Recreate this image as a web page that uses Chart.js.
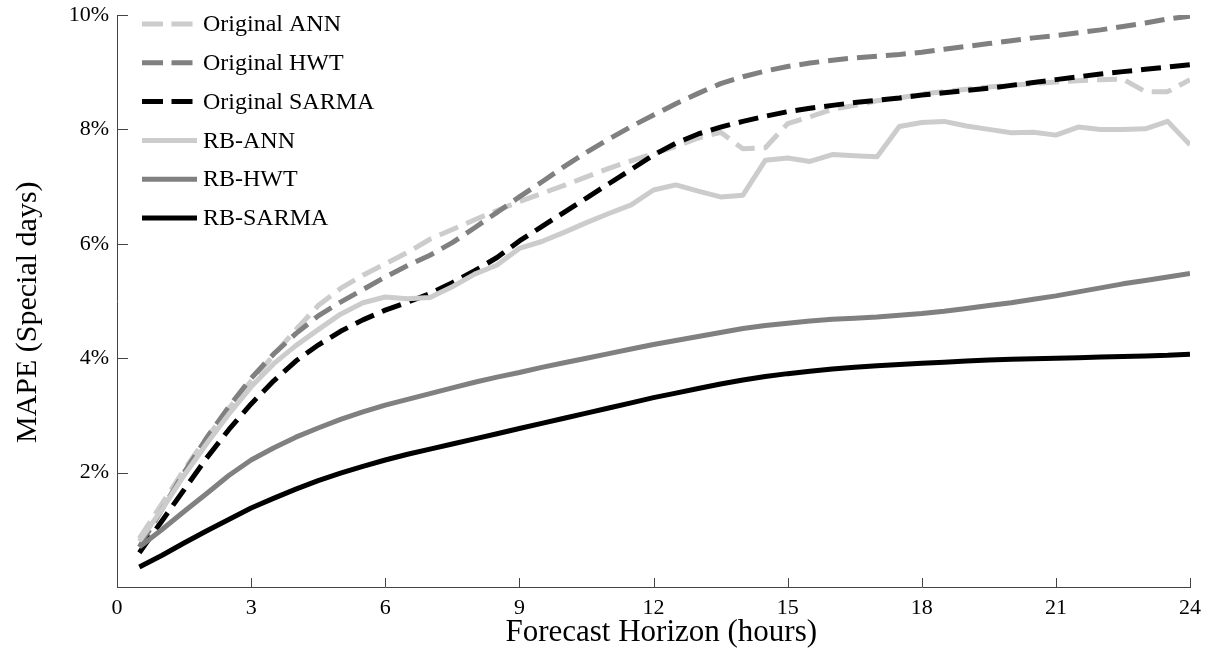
<!DOCTYPE html>
<html><head><meta charset="utf-8">
<script src="https://cdn.jsdelivr.net/npm/chart.js@4.4.0/dist/chart.umd.min.js"></script>
<style>html,body{margin:0;padding:0;background:#fff;}</style>
</head><body>
<canvas id="c" width="1211" height="653"></canvas>
<script>
// ---- data ----
const hours = [0.5,1,1.5,2,2.5,3,3.5,4,4.5,5,5.5,6,6.5,7,7.5,8,8.5,9,9.5,10,10.5,11,11.5,12,12.5,13,13.5,14,14.5,15,15.5,16,16.5,17,17.5,18,18.5,19,19.5,20,20.5,21,21.5,22,22.5,23,23.5,24];
const seriesNames = ['Original ANN','Original HWT','Original SARMA','RB-ANN','RB-HWT','RB-SARMA'];
const originalANN = [0.85,1.45,2.05,2.6,3.12,3.6,4.05,4.5,4.92,5.22, 5.45,5.65,5.85,6.08,6.25,6.42,6.58,6.74,6.88,7.02, 7.17,7.32,7.45,7.58,7.7,7.85,7.95,7.66,7.68,8.1, 8.22,8.35,8.42,8.5,8.55,8.62,8.66,8.7,8.74,8.77, 8.8,8.83,8.85,8.87,8.88,8.66,8.66,8.87];
const originalHWT = [0.7,1.35,2.0,2.6,3.15,3.65,4.07,4.43,4.74,4.98, 5.2,5.42,5.62,5.8,6.02,6.28,6.55,6.82,7.08,7.35, 7.6,7.83,8.05,8.25,8.45,8.63,8.8,8.92,9.02,9.1, 9.16,9.21,9.25,9.28,9.31,9.35,9.4,9.45,9.5,9.55, 9.6,9.64,9.69,9.74,9.8,9.86,9.93,9.98];
const originalSARMA = [0.6,1.15,1.7,2.25,2.75,3.2,3.6,3.95,4.23,4.47, 4.67,4.84,4.98,5.13,5.32,5.53,5.76,6.05,6.3,6.55, 6.8,7.05,7.3,7.55,7.76,7.92,8.04,8.14,8.23,8.31, 8.37,8.42,8.47,8.51,8.55,8.6,8.64,8.68,8.72,8.77, 8.82,8.87,8.92,8.97,9.01,9.05,9.09,9.13];
const rbANN = [0.8,1.35,1.95,2.5,3.02,3.5,3.9,4.22,4.5,4.77, 4.97,5.07,5.04,5.06,5.25,5.47,5.63,5.92,6.04,6.2, 6.37,6.53,6.68,6.94,7.03,6.92,6.82,6.85,7.46,7.5, 7.44,7.56,7.54,7.52,8.05,8.12,8.14,8.06,8.0,7.94, 7.95,7.9,8.04,8.0,8.0,8.01,8.14,7.73];
const rbHWT = [0.7,1.0,1.32,1.63,1.95,2.22,2.43,2.62,2.78,2.93, 3.06,3.18,3.28,3.38,3.48,3.58,3.67,3.75,3.84,3.92, 4.0,4.08,4.16,4.24,4.31,4.38,4.45,4.52,4.57,4.61, 4.65,4.68,4.7,4.72,4.75,4.78,4.82,4.87,4.92,4.97, 5.03,5.09,5.16,5.23,5.3,5.36,5.42,5.48];
const rbSARMA = [0.35,0.55,0.77,0.98,1.18,1.38,1.55,1.71,1.86,1.99, 2.11,2.22,2.32,2.41,2.5,2.59,2.68,2.77,2.86,2.95, 3.04,3.13,3.22,3.31,3.39,3.47,3.55,3.62,3.68,3.73, 3.77,3.81,3.84,3.87,3.89,3.91,3.93,3.95,3.97,3.98, 3.99,4.0,4.01,4.02,4.03,4.04,4.05,4.07];
const xTickValues = [0,3,6,9,12,15,18,21,24];
const yTickValues = [2,4,6,8,10];
const xTitle = 'Forecast Horizon (hours)';
const yTitle = 'MAPE (Special days)';

// ---- styles ----
const LIGHT = '#cccccc', MID = '#808080', DARK = '#000000';
const seriesValues = [originalANN, originalHWT, originalSARMA, rbANN, rbHWT, rbSARMA];
const seriesColors = [LIGHT, MID, DARK, LIGHT, MID, DARK];
const seriesDash = [[20,9],[20,9],[20,9],[],[],[]];
const FONT = "'Liberation Serif', 'Times New Roman', serif";
const NBSP = '\u00a0';

const datasets = seriesValues.map((vals, i) => ({
  label: seriesNames[i],
  data: hours.map((h, k) => ({x: h, y: vals[k]})),
  borderColor: seriesColors[i],
  borderWidth: 5,
  borderDash: seriesDash[i],
  pointRadius: 0,
  fill: false,
  tension: 0,
  borderJoinStyle: 'round',
  order: seriesValues.length - i
}));

const inwardTicks = {
  id: 'inwardTicks',
  afterDraw(chart) {
    const {ctx, chartArea: a, scales: {x, y}} = chart;
    ctx.save();
    ctx.strokeStyle = '#444';
    ctx.lineWidth = 1;
    xTickValues.forEach(v => {
      const px = Math.round(x.getPixelForValue(v)) + 0.5;
      ctx.beginPath(); ctx.moveTo(px, a.bottom); ctx.lineTo(px, a.bottom - 9); ctx.stroke();
    });
    yTickValues.forEach(v => {
      const py = Math.round(y.getPixelForValue(v)) + 0.5;
      ctx.beginPath(); ctx.moveTo(a.left, py); ctx.lineTo(a.left + 11, py); ctx.stroke();
    });
    ctx.restore();
  }
};

const insideLegend = {
  id: 'insideLegend',
  afterDatasetsDraw(chart) {
    const {ctx, chartArea: a} = chart;
    ctx.save();
    ctx.font = '24px ' + FONT;
    ctx.textBaseline = 'middle';
    ctx.fillStyle = '#000';
    chart.data.datasets.forEach((ds, i) => {
      const yy = a.top + 9 + i * 38.8;
      const x0 = a.left + 25;
      const dashedLine = ds.borderDash && ds.borderDash.length;
      ctx.beginPath();
      ctx.strokeStyle = ds.borderColor;
      ctx.lineWidth = 5;
      ctx.setLineDash(dashedLine ? [21, 8.5] : []);
      ctx.moveTo(x0, yy);
      ctx.lineTo(x0 + (dashedLine ? 51 : 55), yy);
      ctx.stroke();
      ctx.setLineDash([]);
      ctx.fillText(ds.label, a.left + 86, yy + 1);
    });
    ctx.restore();
  }
};

new Chart(document.getElementById('c'), {
  type: 'line',
  data: { datasets },
  options: {
    responsive: false,
    animation: false,
    layout: { padding: { top: 15, right: 21, left: 0, bottom: 0 } },
    plugins: { legend: { display: false }, tooltip: { enabled: false } },
    scales: {
      x: {
        type: 'linear', min: 0, max: 24,
        afterBuildTicks: s => { s.ticks = xTickValues.map(v => ({value: v})); },
        afterFit: s => { s.height = 66; s.paddingLeft = 0; s.paddingRight = 0; },
        grid: { display: true, drawOnChartArea: false, drawTicks: false },
        border: { display: true, color: '#444', width: 1 },
        ticks: { color: '#000', padding: 8, font: { family: FONT, size: 22 }, maxRotation: 0, autoSkip: false },
        title: { display: true, text: NBSP + NBSP + xTitle, color: '#000', font: { family: FONT, size: 31, lineHeight: 1.2 }, padding: { top: 0, bottom: 2 } }
      },
      y: {
        type: 'linear', min: 0, max: 10,
        afterBuildTicks: s => { s.ticks = yTickValues.map(v => ({value: v})); },
        afterFit: s => { s.width = 117; s.paddingTop = 0; s.paddingBottom = 0; },
        grid: { display: true, drawOnChartArea: false, drawTicks: false },
        border: { display: true, color: '#444', width: 1 },
        ticks: { color: '#000', padding: 8, font: { family: FONT, size: 22 }, callback: v => v + '%' },
        title: { display: true, text: yTitle + NBSP + NBSP + NBSP, color: '#000', font: { family: FONT, size: 30, lineHeight: 1.2 }, padding: { top: 10, bottom: 0 } }
      }
    }
  },
  plugins: [inwardTicks, insideLegend]
});
</script>
</body></html>
